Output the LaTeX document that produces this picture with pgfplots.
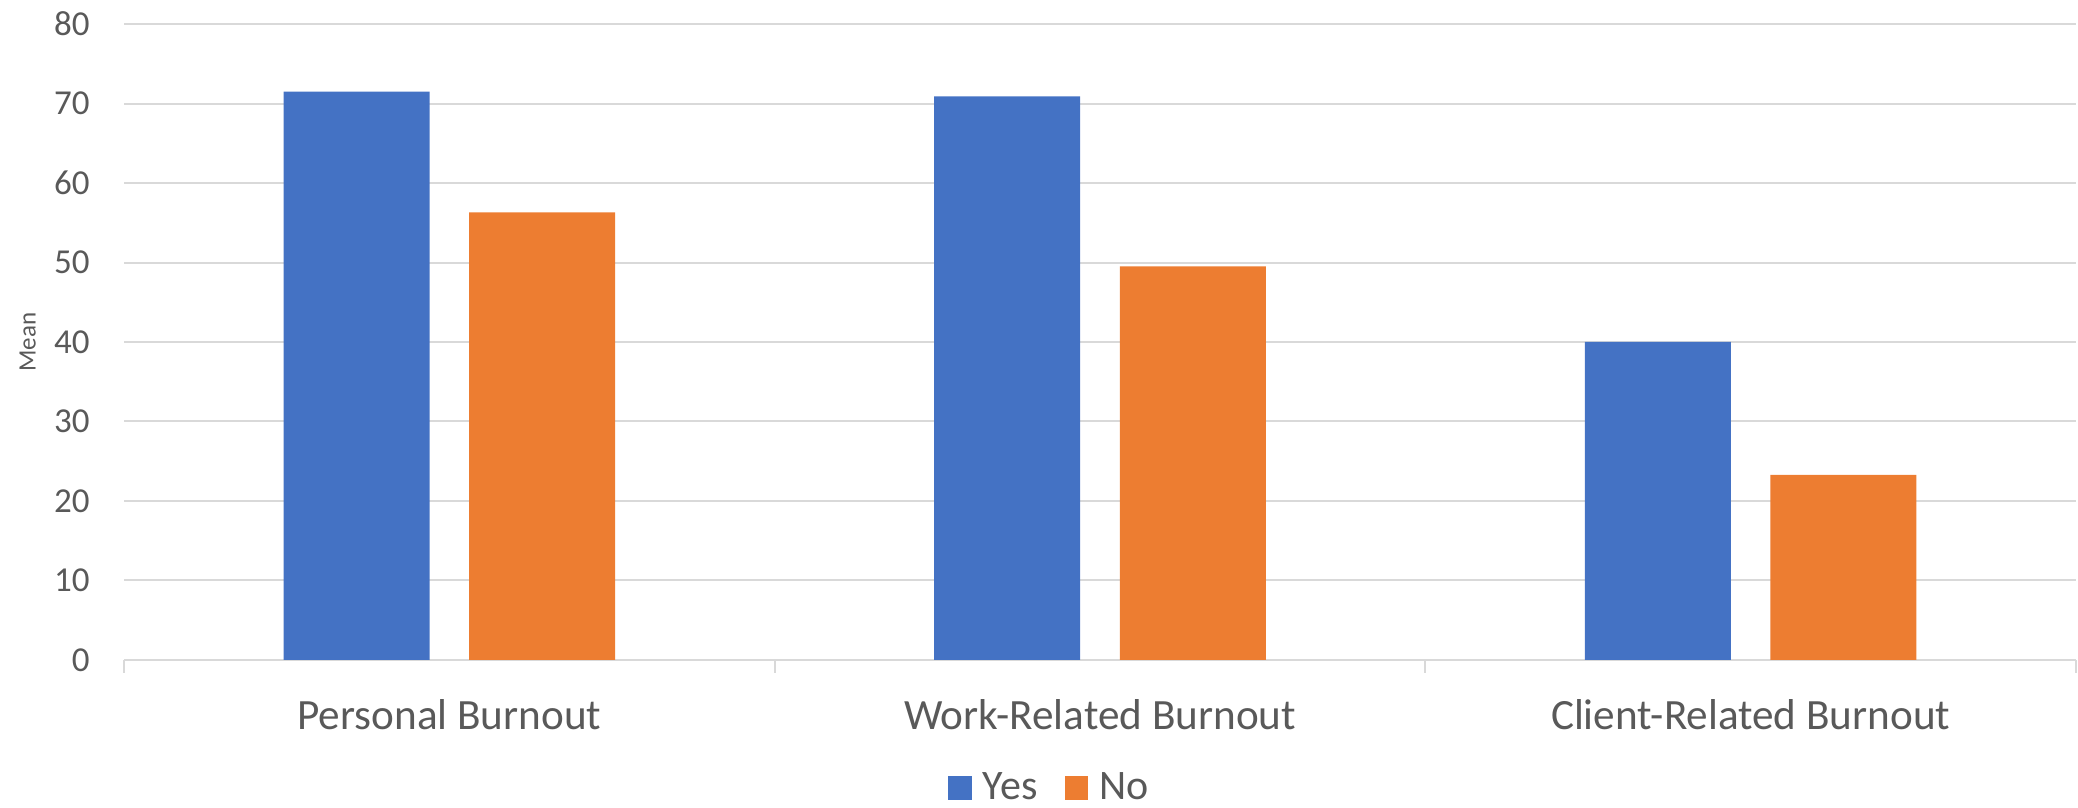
\documentclass[border=0pt]{standalone}
\usepackage{fontspec}
\setmainfont{Carlito}
\usepackage{pgfplots}
\pgfplotsset{compat=1.18}
\definecolor{yesblue}{HTML}{4472C4}
\definecolor{noorange}{HTML}{ED7D31}
\definecolor{txtgray}{HTML}{595959}
\definecolor{gridgray}{HTML}{D9D9D9}

\begin{document}
\begin{tikzpicture}
\path[use as bounding box] (0,0) rectangle (1039pt,404pt);
\begin{axis}[
  at={(62pt,74pt)}, anchor=south west,
  scale only axis, width=976pt, height=318pt,
  xmin=-0.5, xmax=2.5, ymin=0, ymax=80,
  xtick={0,1,2},
  xticklabels={Personal Burnout, Work-Related Burnout, Client-Related Burnout},
  ytick={0,10,...,80},
  minor xtick={-0.5,0.5,1.5,2.5},
  major tick length=0pt, minor tick length=6.35pt,
  xtick align=outside,
  tick style={draw=gridgray, line width=1pt},
  ytick style={draw=none},
  ymajorgrids, grid style={draw=gridgray, line width=1pt},
  axis x line*=bottom, axis y line*=left,
  x axis line style={draw=gridgray, line width=1pt, -},
  y axis line style={draw=none},
  /pgf/number format/assume math mode=true,
  yticklabel style={font=\fontsize{17.5pt}{20pt}\selectfont, text=txtgray,
    anchor=east, inner sep=0pt, xshift=-17pt},
  xticklabel style={font=\fontsize{21.6pt}{24pt}\selectfont, text=txtgray,
    anchor=base, inner sep=0pt, yshift=-34.65pt},
  ylabel={Mean},
  ylabel style={font=\fontsize{12.5pt}{14pt}\selectfont, text=txtgray,
    at={(axis description cs:-0.0494,0.5)}, anchor=center, inner sep=0pt},
  legend columns=2,
  legend style={at={(0.4736,-0.201)}, anchor=center, draw=none, fill=none,
    inner sep=0pt, font=\fontsize{21pt}{24pt}\selectfont, text=txtgray,
    nodes={inner sep=0pt},
    /tikz/every odd column/.append style={column sep=5.65pt},
    /tikz/every even column/.append style={column sep=13.6pt}},
]
% Yes
\addplot[ybar, bar width=73pt, bar shift=-46.4pt, fill=yesblue, draw=none,
  legend image code/.code={\fill[yesblue] (0pt,-6pt) rectangle (11.7pt,5.7pt);}]
  coordinates {(0,71.5) (1,70.9) (2,40.0)};
\addlegendentry{Yes}
% No
\addplot[ybar, bar width=73pt, bar shift=46.4pt, fill=noorange, draw=none,
  legend image code/.code={\fill[noorange] (0pt,-6pt) rectangle (11.7pt,5.7pt);}]
  coordinates {(0,56.3) (1,49.5) (2,23.3)};
\addlegendentry{No}
\end{axis}
\end{tikzpicture}
\end{document}
